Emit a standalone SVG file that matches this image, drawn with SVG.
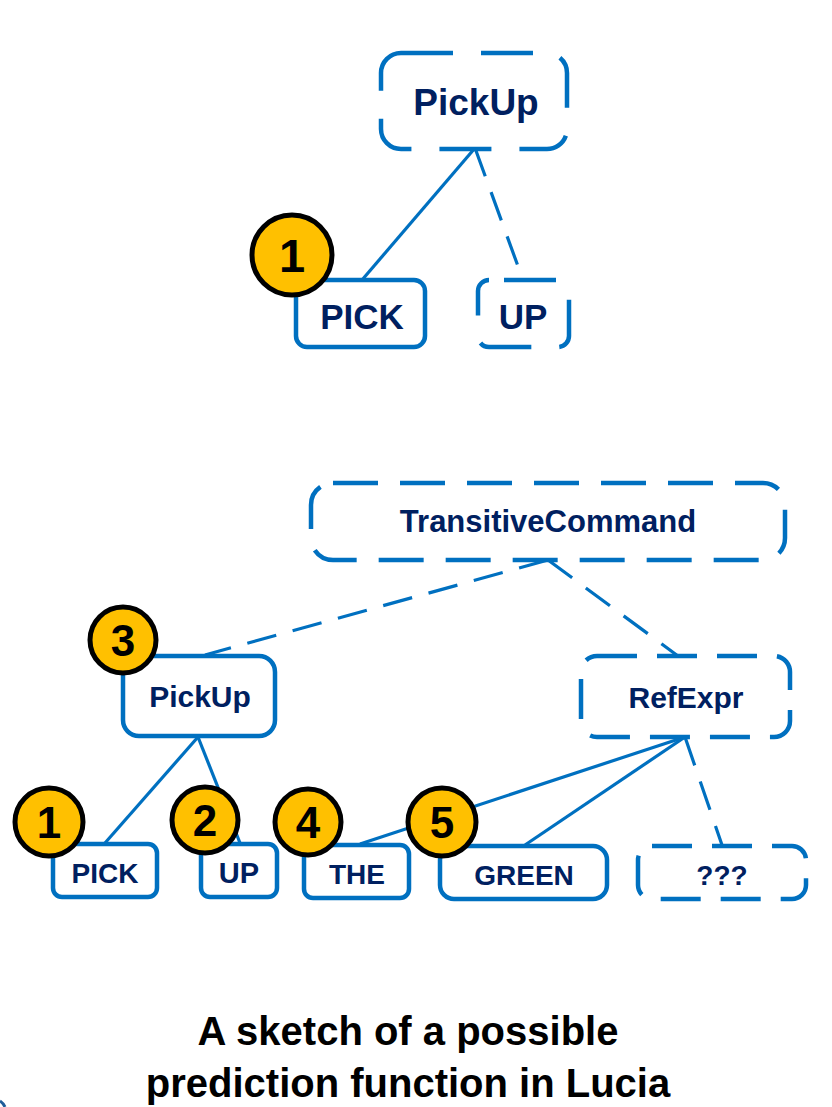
<svg xmlns="http://www.w3.org/2000/svg" width="832" height="1107" viewBox="0 0 832 1107">
<style>
.box{fill:#fff;stroke:#0070C0;stroke-width:4.5}
.dash1{stroke-dasharray:52 28}
.dash2{stroke-dasharray:45 22}
.dash3{stroke-dasharray:40 20}
.lbl{font-family:"Liberation Sans",Arial,sans-serif;font-weight:bold;fill:#002060;text-anchor:middle}
.con{stroke:#0070C0;stroke-width:3.2;fill:none}
.cdash{stroke-dasharray:30 17}
.badge circle{fill:#FFC000;stroke:#000;stroke-width:5}
.badge text{font-family:"Liberation Sans",Arial,sans-serif;font-weight:bold;fill:#000;text-anchor:middle}
.cap{font-family:"Liberation Sans",Arial,sans-serif;font-weight:bold;fill:#000;text-anchor:middle;font-size:40px}
</style>
<rect width="832" height="1107" fill="#fff"/>
<g id="connectors">
<line class="con" x1="475" y1="148" x2="362" y2="280"/>
<line class="con cdash" x1="475" y1="148" x2="523" y2="280"/>
<line class="con cdash" x1="548" y1="560" x2="205" y2="655"/>
<line class="con cdash" x1="548" y1="560" x2="678" y2="656"/>
<line class="con" x1="198" y1="737" x2="105" y2="843"/>
<line class="con" x1="198" y1="737" x2="240" y2="843"/>
<line class="con" x1="685" y1="737" x2="360" y2="844"/>
<line class="con" x1="685" y1="737" x2="525" y2="845"/>
<line class="con cdash" x1="685" y1="737" x2="722" y2="845"/>
</g>
<g id="top-pickup">
<rect class="box dash1" x="381" y="53" width="186" height="96" rx="20"/>
<text class="lbl" x="476" y="115" font-size="37">PickUp</text>
</g>
<g id="top-pick">
<rect class="box" x="296" y="280" width="129" height="67" rx="11"/>
<text class="lbl" x="362" y="329" font-size="35">PICK</text>
</g>
<g id="top-up">
<rect class="box dash1" x="478" y="280" width="91" height="67" rx="11" stroke-dashoffset="-15"/>
<text class="lbl" x="523" y="329" font-size="35">UP</text>
</g>
<g id="badge-top-1" class="badge">
<circle cx="292" cy="255" r="40"/>
<text x="292" y="272" font-size="47">1</text>
</g>
<g id="transitive">
<rect class="box dash2" x="311" y="483" width="474" height="77" rx="22"/>
<text class="lbl" x="548" y="532" font-size="31">TransitiveCommand</text>
</g>
<g id="pickup">
<rect class="box" x="123" y="656" width="152" height="80" rx="16"/>
<text class="lbl" x="200" y="707" font-size="30">PickUp</text>
</g>
<g id="refexpr">
<rect class="box dash3" x="581" y="656" width="209" height="81" rx="16"/>
<text class="lbl" x="686" y="708" font-size="30">RefExpr</text>
</g>
<g id="pick">
<rect class="box" x="53" y="844" width="104" height="53" rx="9"/>
<text class="lbl" x="105" y="883" font-size="28">PICK</text>
</g>
<g id="up">
<rect class="box" x="201" y="844" width="76" height="53" rx="9"/>
<text class="lbl" x="239" y="883" font-size="29">UP</text>
</g>
<g id="the">
<rect class="box" x="304" y="845" width="105" height="53" rx="9"/>
<text class="lbl" x="357" y="884" font-size="28">THE</text>
</g>
<g id="green">
<rect class="box" x="440" y="846" width="167" height="53" rx="14"/>
<text class="lbl" x="524" y="885" font-size="28">GREEN</text>
</g>
<g id="unknown">
<rect class="box dash3" x="638" y="846" width="168" height="53" rx="14"/>
<text class="lbl" x="722" y="885" font-size="28">???</text>
</g>
<g id="badge-1" class="badge">
<circle cx="49" cy="822" r="34"/>
<text x="49" y="838" font-size="44">1</text>
</g>
<g id="badge-2" class="badge">
<circle cx="205" cy="820" r="33"/>
<text x="205" y="836" font-size="44">2</text>
</g>
<g id="badge-3" class="badge">
<circle cx="123" cy="640" r="33"/>
<text x="123" y="656" font-size="44">3</text>
</g>
<g id="badge-4" class="badge">
<circle cx="308" cy="822" r="33"/>
<text x="308" y="838" font-size="44">4</text>
</g>
<g id="badge-5" class="badge">
<circle cx="442" cy="822" r="34"/>
<text x="442" y="838" font-size="44">5</text>
</g>
<g id="caption">
<text class="cap" x="408" y="1045">A sketch of a possible</text>
<text class="cap" x="408" y="1097">prediction function in Lucia</text>
</g>
<path d="M0 1101 Q3 1103 5 1107" stroke="#1F5C99" stroke-width="3" fill="none"/>
</svg>
